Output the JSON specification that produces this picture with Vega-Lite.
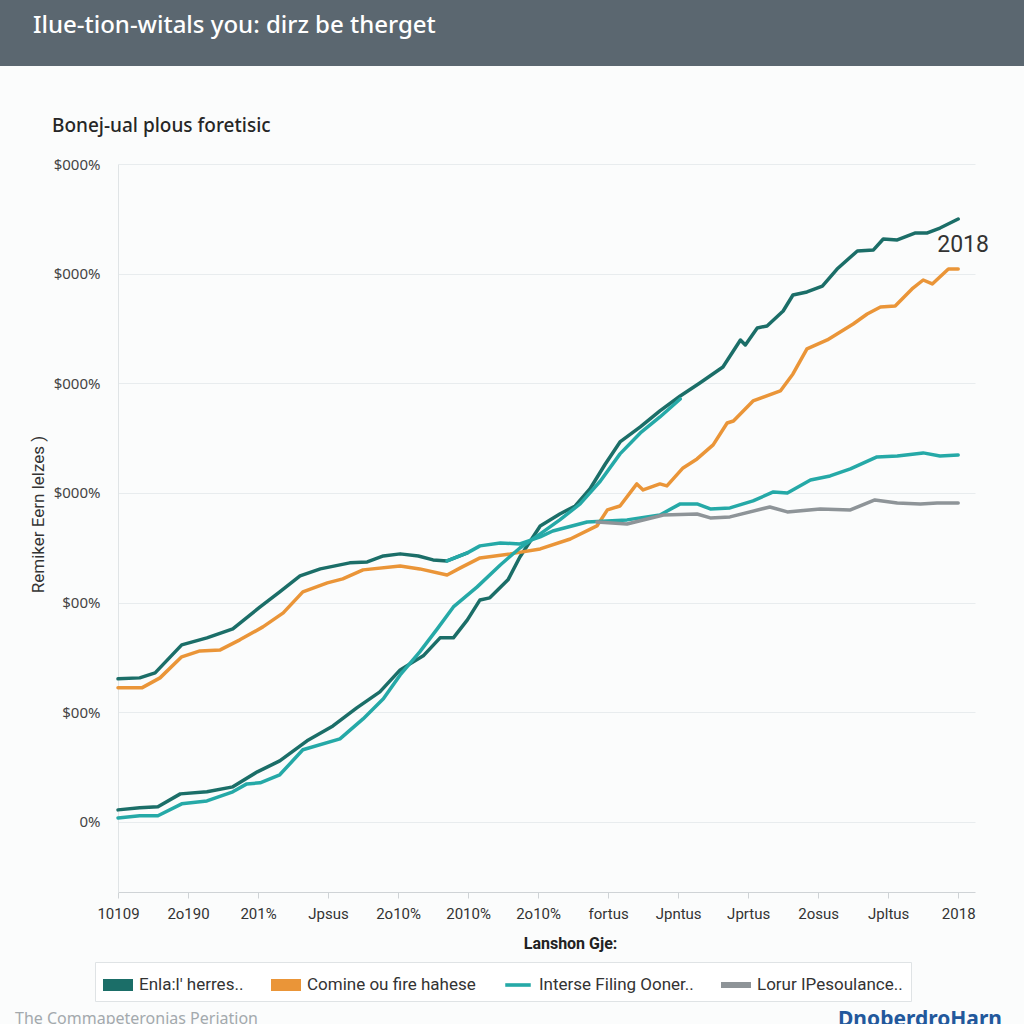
{
  "$schema": "https://vega.github.io/schema/vega-lite/v6.json",
  "background": "#fbfcfc",
  "padding": 0,
  "spacing": 51,
  "config": {
    "font": "Noto Sans",
    "view": {"stroke": null}
  },
  "datasets": {
    "lines": [
      {"series": "Enla:l' herres..", "line": "upper-dark", "t": 0, "v": 130.4},
      {"series": "Enla:l' herres..", "line": "upper-dark", "t": 0.31, "v": 131.3},
      {"series": "Enla:l' herres..", "line": "upper-dark", "t": 0.53, "v": 135.9},
      {"series": "Enla:l' herres..", "line": "upper-dark", "t": 0.91, "v": 161.4},
      {"series": "Enla:l' herres..", "line": "upper-dark", "t": 1.27, "v": 167.8},
      {"series": "Enla:l' herres..", "line": "upper-dark", "t": 1.64, "v": 176.0},
      {"series": "Enla:l' herres..", "line": "upper-dark", "t": 2.03, "v": 196.0},
      {"series": "Enla:l' herres..", "line": "upper-dark", "t": 2.31, "v": 209.7},
      {"series": "Enla:l' herres..", "line": "upper-dark", "t": 2.6, "v": 224.3},
      {"series": "Enla:l' herres..", "line": "upper-dark", "t": 2.89, "v": 230.7},
      {"series": "Enla:l' herres..", "line": "upper-dark", "t": 3.31, "v": 236.2},
      {"series": "Enla:l' herres..", "line": "upper-dark", "t": 3.56, "v": 237.1},
      {"series": "Enla:l' herres..", "line": "upper-dark", "t": 3.79, "v": 242.5},
      {"series": "Enla:l' herres..", "line": "upper-dark", "t": 4.03, "v": 244.4},
      {"series": "Enla:l' herres..", "line": "upper-dark", "t": 4.29, "v": 242.5},
      {"series": "Enla:l' herres..", "line": "upper-dark", "t": 4.5, "v": 238.9},
      {"series": "Enla:l' herres..", "line": "upper-dark", "t": 4.7, "v": 238.0},
      {"series": "Enla:l' herres..", "line": "upper-dark", "t": 4.99, "v": 245.3},

      {"series": "Enla:l' herres..", "line": "lower-dark", "t": 0, "v": 10.9},
      {"series": "Enla:l' herres..", "line": "lower-dark", "t": 0.31, "v": 12.8},
      {"series": "Enla:l' herres..", "line": "lower-dark", "t": 0.57, "v": 13.7},
      {"series": "Enla:l' herres..", "line": "lower-dark", "t": 0.89, "v": 25.5},
      {"series": "Enla:l' herres..", "line": "lower-dark", "t": 1.27, "v": 27.4},
      {"series": "Enla:l' herres..", "line": "lower-dark", "t": 1.64, "v": 31.9},
      {"series": "Enla:l' herres..", "line": "lower-dark", "t": 1.99, "v": 45.6},
      {"series": "Enla:l' herres..", "line": "lower-dark", "t": 2.31, "v": 55.6},
      {"series": "Enla:l' herres..", "line": "lower-dark", "t": 2.7, "v": 73.9},
      {"series": "Enla:l' herres..", "line": "lower-dark", "t": 3.07, "v": 87.5},
      {"series": "Enla:l' herres..", "line": "lower-dark", "t": 3.41, "v": 103.9},
      {"series": "Enla:l' herres..", "line": "lower-dark", "t": 3.74, "v": 118.5},
      {"series": "Enla:l' herres..", "line": "lower-dark", "t": 4.03, "v": 138.6},
      {"series": "Enla:l' herres..", "line": "lower-dark", "t": 4.36, "v": 151.4},
      {"series": "Enla:l' herres..", "line": "lower-dark", "t": 4.6, "v": 167.8},
      {"series": "Enla:l' herres..", "line": "lower-dark", "t": 4.79, "v": 167.8},
      {"series": "Enla:l' herres..", "line": "lower-dark", "t": 4.99, "v": 184.2},
      {"series": "Enla:l' herres..", "line": "lower-dark", "t": 5.17, "v": 202.4},
      {"series": "Enla:l' herres..", "line": "lower-dark", "t": 5.31, "v": 204.3},
      {"series": "Enla:l' herres..", "line": "lower-dark", "t": 5.57, "v": 220.7},
      {"series": "Enla:l' herres..", "line": "lower-dark", "t": 5.74, "v": 241.6},
      {"series": "Enla:l' herres..", "line": "lower-dark", "t": 6.03, "v": 269.9},
      {"series": "Enla:l' herres..", "line": "lower-dark", "t": 6.31, "v": 280.8},
      {"series": "Enla:l' herres..", "line": "lower-dark", "t": 6.53, "v": 288.1},
      {"series": "Enla:l' herres..", "line": "lower-dark", "t": 6.74, "v": 303.6},
      {"series": "Enla:l' herres..", "line": "lower-dark", "t": 6.96, "v": 326.4},
      {"series": "Enla:l' herres..", "line": "lower-dark", "t": 7.17, "v": 346.5},
      {"series": "Enla:l' herres..", "line": "lower-dark", "t": 7.46, "v": 360.2},
      {"series": "Enla:l' herres..", "line": "lower-dark", "t": 7.74, "v": 374.8},
      {"series": "Enla:l' herres..", "line": "lower-dark", "t": 8.03, "v": 388.4},
      {"series": "Enla:l' herres..", "line": "lower-dark", "t": 8.31, "v": 400.3},
      {"series": "Enla:l' herres..", "line": "lower-dark", "t": 8.64, "v": 414.9},
      {"series": "Enla:l' herres..", "line": "lower-dark", "t": 8.89, "v": 439.5},
      {"series": "Enla:l' herres..", "line": "lower-dark", "t": 8.96, "v": 434.9},
      {"series": "Enla:l' herres..", "line": "lower-dark", "t": 9.13, "v": 450.4},
      {"series": "Enla:l' herres..", "line": "lower-dark", "t": 9.27, "v": 452.3},
      {"series": "Enla:l' herres..", "line": "lower-dark", "t": 9.5, "v": 465.9},
      {"series": "Enla:l' herres..", "line": "lower-dark", "t": 9.64, "v": 480.5},
      {"series": "Enla:l' herres..", "line": "lower-dark", "t": 9.84, "v": 483.3},
      {"series": "Enla:l' herres..", "line": "lower-dark", "t": 10.06, "v": 488.7},
      {"series": "Enla:l' herres..", "line": "lower-dark", "t": 10.27, "v": 504.2},
      {"series": "Enla:l' herres..", "line": "lower-dark", "t": 10.56, "v": 520.7},
      {"series": "Enla:l' herres..", "line": "lower-dark", "t": 10.79, "v": 521.6},
      {"series": "Enla:l' herres..", "line": "lower-dark", "t": 10.93, "v": 531.6},
      {"series": "Enla:l' herres..", "line": "lower-dark", "t": 11.13, "v": 530.7},
      {"series": "Enla:l' herres..", "line": "lower-dark", "t": 11.39, "v": 537.1},
      {"series": "Enla:l' herres..", "line": "lower-dark", "t": 11.56, "v": 537.1},
      {"series": "Enla:l' herres..", "line": "lower-dark", "t": 11.74, "v": 541.6},
      {"series": "Enla:l' herres..", "line": "lower-dark", "t": 12.0, "v": 549.8},

      {"series": "Comine ou fire hahese", "line": "orange", "t": 0, "v": 122.2},
      {"series": "Comine ou fire hahese", "line": "orange", "t": 0.34, "v": 122.2},
      {"series": "Comine ou fire hahese", "line": "orange", "t": 0.6, "v": 131.3},
      {"series": "Comine ou fire hahese", "line": "orange", "t": 0.91, "v": 150.5},
      {"series": "Comine ou fire hahese", "line": "orange", "t": 1.17, "v": 155.9},
      {"series": "Comine ou fire hahese", "line": "orange", "t": 1.46, "v": 156.8},
      {"series": "Comine ou fire hahese", "line": "orange", "t": 1.74, "v": 166.0},
      {"series": "Comine ou fire hahese", "line": "orange", "t": 2.07, "v": 177.8},
      {"series": "Comine ou fire hahese", "line": "orange", "t": 2.36, "v": 190.6},
      {"series": "Comine ou fire hahese", "line": "orange", "t": 2.64, "v": 209.7},
      {"series": "Comine ou fire hahese", "line": "orange", "t": 2.99, "v": 217.9},
      {"series": "Comine ou fire hahese", "line": "orange", "t": 3.21, "v": 221.6},
      {"series": "Comine ou fire hahese", "line": "orange", "t": 3.5, "v": 229.8},
      {"series": "Comine ou fire hahese", "line": "orange", "t": 4.03, "v": 233.4},
      {"series": "Comine ou fire hahese", "line": "orange", "t": 4.31, "v": 230.7},
      {"series": "Comine ou fire hahese", "line": "orange", "t": 4.7, "v": 225.2},
      {"series": "Comine ou fire hahese", "line": "orange", "t": 4.89, "v": 231.6},
      {"series": "Comine ou fire hahese", "line": "orange", "t": 5.17, "v": 240.7},
      {"series": "Comine ou fire hahese", "line": "orange", "t": 5.6, "v": 244.4},
      {"series": "Comine ou fire hahese", "line": "orange", "t": 6.03, "v": 248.9},
      {"series": "Comine ou fire hahese", "line": "orange", "t": 6.46, "v": 258.0},
      {"series": "Comine ou fire hahese", "line": "orange", "t": 6.84, "v": 269.9},
      {"series": "Comine ou fire hahese", "line": "orange", "t": 6.99, "v": 284.5},
      {"series": "Comine ou fire hahese", "line": "orange", "t": 7.17, "v": 288.1},
      {"series": "Comine ou fire hahese", "line": "orange", "t": 7.41, "v": 308.2},
      {"series": "Comine ou fire hahese", "line": "orange", "t": 7.5, "v": 302.7},
      {"series": "Comine ou fire hahese", "line": "orange", "t": 7.74, "v": 308.2},
      {"series": "Comine ou fire hahese", "line": "orange", "t": 7.84, "v": 306.4},
      {"series": "Comine ou fire hahese", "line": "orange", "t": 8.07, "v": 322.8},
      {"series": "Comine ou fire hahese", "line": "orange", "t": 8.27, "v": 331.0},
      {"series": "Comine ou fire hahese", "line": "orange", "t": 8.5, "v": 343.8},
      {"series": "Comine ou fire hahese", "line": "orange", "t": 8.7, "v": 363.8},
      {"series": "Comine ou fire hahese", "line": "orange", "t": 8.79, "v": 365.6},
      {"series": "Comine ou fire hahese", "line": "orange", "t": 9.07, "v": 383.9},
      {"series": "Comine ou fire hahese", "line": "orange", "t": 9.46, "v": 393.0},
      {"series": "Comine ou fire hahese", "line": "orange", "t": 9.64, "v": 408.5},
      {"series": "Comine ou fire hahese", "line": "orange", "t": 9.84, "v": 431.3},
      {"series": "Comine ou fire hahese", "line": "orange", "t": 10.13, "v": 439.5},
      {"series": "Comine ou fire hahese", "line": "orange", "t": 10.5, "v": 454.1},
      {"series": "Comine ou fire hahese", "line": "orange", "t": 10.7, "v": 463.2},
      {"series": "Comine ou fire hahese", "line": "orange", "t": 10.89, "v": 469.6},
      {"series": "Comine ou fire hahese", "line": "orange", "t": 11.1, "v": 470.5},
      {"series": "Comine ou fire hahese", "line": "orange", "t": 11.34, "v": 486.0},
      {"series": "Comine ou fire hahese", "line": "orange", "t": 11.5, "v": 494.2},
      {"series": "Comine ou fire hahese", "line": "orange", "t": 11.63, "v": 490.6},
      {"series": "Comine ou fire hahese", "line": "orange", "t": 11.86, "v": 504.2},
      {"series": "Comine ou fire hahese", "line": "orange", "t": 12.0, "v": 504.2},

      {"series": "Interse Filing Ooner..", "line": "lower-cyan", "t": 0, "v": 3.6},
      {"series": "Interse Filing Ooner..", "line": "lower-cyan", "t": 0.31, "v": 5.5},
      {"series": "Interse Filing Ooner..", "line": "lower-cyan", "t": 0.57, "v": 5.5},
      {"series": "Interse Filing Ooner..", "line": "lower-cyan", "t": 0.91, "v": 16.4},
      {"series": "Interse Filing Ooner..", "line": "lower-cyan", "t": 1.27, "v": 19.1},
      {"series": "Interse Filing Ooner..", "line": "lower-cyan", "t": 1.64, "v": 27.4},
      {"series": "Interse Filing Ooner..", "line": "lower-cyan", "t": 1.84, "v": 34.6},
      {"series": "Interse Filing Ooner..", "line": "lower-cyan", "t": 2.03, "v": 35.6},
      {"series": "Interse Filing Ooner..", "line": "lower-cyan", "t": 2.31, "v": 42.9},
      {"series": "Interse Filing Ooner..", "line": "lower-cyan", "t": 2.64, "v": 65.7},
      {"series": "Interse Filing Ooner..", "line": "lower-cyan", "t": 3.17, "v": 75.7},
      {"series": "Interse Filing Ooner..", "line": "lower-cyan", "t": 3.5, "v": 93.9},
      {"series": "Interse Filing Ooner..", "line": "lower-cyan", "t": 3.79, "v": 112.2},
      {"series": "Interse Filing Ooner..", "line": "lower-cyan", "t": 4.03, "v": 134.0},
      {"series": "Interse Filing Ooner..", "line": "lower-cyan", "t": 4.31, "v": 155.0},
      {"series": "Interse Filing Ooner..", "line": "lower-cyan", "t": 4.56, "v": 176.0},
      {"series": "Interse Filing Ooner..", "line": "lower-cyan", "t": 4.79, "v": 196.0},
      {"series": "Interse Filing Ooner..", "line": "lower-cyan", "t": 5.13, "v": 214.3},
      {"series": "Interse Filing Ooner..", "line": "lower-cyan", "t": 5.46, "v": 234.3},
      {"series": "Interse Filing Ooner..", "line": "lower-cyan", "t": 5.74, "v": 249.8},
      {"series": "Interse Filing Ooner..", "line": "lower-cyan", "t": 6.03, "v": 262.6},
      {"series": "Interse Filing Ooner..", "line": "lower-cyan", "t": 6.31, "v": 275.4},
      {"series": "Interse Filing Ooner..", "line": "lower-cyan", "t": 6.6, "v": 290.0},
      {"series": "Interse Filing Ooner..", "line": "lower-cyan", "t": 6.89, "v": 310.9},
      {"series": "Interse Filing Ooner..", "line": "lower-cyan", "t": 7.17, "v": 335.6},
      {"series": "Interse Filing Ooner..", "line": "lower-cyan", "t": 7.46, "v": 354.7},
      {"series": "Interse Filing Ooner..", "line": "lower-cyan", "t": 7.74, "v": 369.3},
      {"series": "Interse Filing Ooner..", "line": "lower-cyan", "t": 8.03, "v": 385.7},

      {"series": "Interse Filing Ooner..", "line": "upper-cyan", "t": 4.7, "v": 238.0},
      {"series": "Interse Filing Ooner..", "line": "upper-cyan", "t": 4.99, "v": 245.3},
      {"series": "Interse Filing Ooner..", "line": "upper-cyan", "t": 5.17, "v": 251.7},
      {"series": "Interse Filing Ooner..", "line": "upper-cyan", "t": 5.46, "v": 254.4},
      {"series": "Interse Filing Ooner..", "line": "upper-cyan", "t": 5.74, "v": 253.5},
      {"series": "Interse Filing Ooner..", "line": "upper-cyan", "t": 6.03, "v": 259.9},
      {"series": "Interse Filing Ooner..", "line": "upper-cyan", "t": 6.21, "v": 265.3},
      {"series": "Interse Filing Ooner..", "line": "upper-cyan", "t": 6.7, "v": 273.5},
      {"series": "Interse Filing Ooner..", "line": "upper-cyan", "t": 7.27, "v": 275.4},
      {"series": "Interse Filing Ooner..", "line": "upper-cyan", "t": 7.74, "v": 279.9},
      {"series": "Interse Filing Ooner..", "line": "upper-cyan", "t": 8.03, "v": 290.0},
      {"series": "Interse Filing Ooner..", "line": "upper-cyan", "t": 8.27, "v": 290.0},
      {"series": "Interse Filing Ooner..", "line": "upper-cyan", "t": 8.46, "v": 285.4},
      {"series": "Interse Filing Ooner..", "line": "upper-cyan", "t": 8.74, "v": 286.3},
      {"series": "Interse Filing Ooner..", "line": "upper-cyan", "t": 9.07, "v": 292.7},
      {"series": "Interse Filing Ooner..", "line": "upper-cyan", "t": 9.36, "v": 300.9},
      {"series": "Interse Filing Ooner..", "line": "upper-cyan", "t": 9.56, "v": 300.0},
      {"series": "Interse Filing Ooner..", "line": "upper-cyan", "t": 9.89, "v": 311.8},
      {"series": "Interse Filing Ooner..", "line": "upper-cyan", "t": 10.17, "v": 315.5},
      {"series": "Interse Filing Ooner..", "line": "upper-cyan", "t": 10.46, "v": 321.9},
      {"series": "Interse Filing Ooner..", "line": "upper-cyan", "t": 10.84, "v": 332.8},
      {"series": "Interse Filing Ooner..", "line": "upper-cyan", "t": 11.13, "v": 333.7},
      {"series": "Interse Filing Ooner..", "line": "upper-cyan", "t": 11.5, "v": 336.5},
      {"series": "Interse Filing Ooner..", "line": "upper-cyan", "t": 11.74, "v": 333.7},
      {"series": "Interse Filing Ooner..", "line": "upper-cyan", "t": 12.0, "v": 334.6},

      {"series": "Lorur IPesoulance..", "line": "gray", "t": 6.84, "v": 273.5},
      {"series": "Lorur IPesoulance..", "line": "gray", "t": 7.27, "v": 271.7},
      {"series": "Lorur IPesoulance..", "line": "gray", "t": 7.79, "v": 279.9},
      {"series": "Lorur IPesoulance..", "line": "gray", "t": 8.27, "v": 280.8},
      {"series": "Lorur IPesoulance..", "line": "gray", "t": 8.46, "v": 277.2},
      {"series": "Lorur IPesoulance..", "line": "gray", "t": 8.74, "v": 278.1},
      {"series": "Lorur IPesoulance..", "line": "gray", "t": 9.31, "v": 287.2},
      {"series": "Lorur IPesoulance..", "line": "gray", "t": 9.56, "v": 282.7},
      {"series": "Lorur IPesoulance..", "line": "gray", "t": 10.03, "v": 285.4},
      {"series": "Lorur IPesoulance..", "line": "gray", "t": 10.46, "v": 284.5},
      {"series": "Lorur IPesoulance..", "line": "gray", "t": 10.81, "v": 293.6},
      {"series": "Lorur IPesoulance..", "line": "gray", "t": 11.13, "v": 290.9},
      {"series": "Lorur IPesoulance..", "line": "gray", "t": 11.46, "v": 290.0},
      {"series": "Lorur IPesoulance..", "line": "gray", "t": 11.7, "v": 290.9},
      {"series": "Lorur IPesoulance..", "line": "gray", "t": 12.0, "v": 290.9}
    ],
    "notes": [
      {"t": 12.07, "v": 526, "note": "2018"}
    ],
    "heading": [
      {"heading": "Ilue-tion-witals you: dirz be therget"}
    ],
    "footer": [
      {"side": "left", "caption": "The Commapeteronias Periation"},
      {"side": "right", "caption": "DnoberdroHarn"}
    ]
  },
  "vconcat": [
    {
      "width": 1024,
      "height": 66,
      "view": {"fill": "#5b6770", "stroke": null},
      "data": {"name": "heading"},
      "mark": {"type": "text", "align": "left", "baseline": "alphabetic", "font": "Noto Sans", "fontSize": 24, "fontWeight": 500, "color": "#ffffff"},
      "encoding": {
        "x": {"field": "heading", "type": "nominal", "scale": {"type": "point", "range": [33, 1024], "padding": 0, "align": 0}, "axis": null},
        "text": {"field": "heading"}
      }
    },
    {
      "spacing": 56,
      "vconcat": [
        {
          "spacing": 0,
          "hconcat": [
            {
              "width": 29,
              "height": 728,
              "view": {"fill": "#fbfcfc", "stroke": null},
              "data": {"values": []},
              "mark": {"type": "point"},
              "encoding": {}
            },
            {
              "width": 857,
              "height": 728,
              "title": {
                "text": "Bonej-ual plous foretisic",
                "anchor": "start",
                "frame": "group",
                "dx": -66,
                "offset": 21,
                "color": "#262626",
                "fontSize": 19,
                "fontWeight": 500,
                "font": "Noto Sans"
              },
              "layer": [
                {
                  "data": {"name": "lines"},
                  "mark": {"type": "line", "strokeWidth": 3.5, "strokeJoin": "round", "strokeCap": "round"},
                  "encoding": {
                    "x": {
                      "field": "t", "type": "quantitative",
                      "scale": {"domain": [0, 12.24], "nice": false, "zero": false},
                      "axis": {
                        "values": [0,1,2,3,4,5,6,7,8,9,10,11,12],
                        "labelExpr": "['10109','2o190','201%','Jpsus','2o10%','2010%','2o10%','fortus','Jpntus','Jprtus','2osus','Jpltus','2018'][datum.value]",
                        "title": "Lanshon Gje:",
                        "titleFont": "Roboto",
                        "titleFontSize": 16,
                        "titleFontWeight": "bold",
                        "titleColor": "#222222",
                        "titlePadding": 14,
                        "titleX": 452,
                        "labelFont": "Roboto",
                        "labelFontSize": 15,
                        "labelColor": "#333333",
                        "labelPadding": 8,
                        "labelFlush": false,
                        "labelOverlap": false,
                        "tickSize": 6,
                        "tickColor": "#cfd3d6",
                        "domainColor": "#cfd3d6",
                        "grid": false
                      }
                    },
                    "y": {
                      "field": "v", "type": "quantitative",
                      "scale": {"domain": [-64, 600], "nice": false, "zero": false},
                      "axis": {
                        "values": [0,100,200,300,400,500,600],
                        "labelExpr": "datum.value == 0 ? '0%' : (datum.value <= 200 ? '$00%' : '$000%')",
                        "title": "Remiker Eern lelzes )",
                        "titleFont": "Roboto",
                        "titleFontSize": 17,
                        "titleFontWeight": "normal",
                        "titleColor": "#333333",
                        "titlePadding": 6,
                        "titleY": 350,
                        "labelFont": "Noto Sans",
                        "labelFontSize": 15,
                        "labelColor": "#444444",
                        "labelPadding": 18,
                        "ticks": false,
                        "domainColor": "#e0e4e6",
                        "grid": true,
                        "gridColor": "#e8ecee"
                      }
                    },
                    "color": {
                      "field": "series", "type": "nominal",
                      "scale": {
                        "domain": ["Enla:l' herres..", "Comine ou fire hahese", "Interse Filing Ooner..", "Lorur IPesoulance.."],
                        "range": ["#1b6e68", "#ea9538", "#25a9a7", "#8e9498"]
                      },
                      "legend": {
                        "orient": "none",
                        "legendX": 95,
                        "legendY": 962,
                        "direction": "horizontal",
                        "title": null,
                        "strokeColor": "#dfe3e5",
                        "fillColor": "#ffffff",
                        "padding": 8,
                        "columnPadding": 27,
                        "symbolType": "M-1,-0.4H1V0.4H-1Z",
                        "symbolSize": 900,
                        "symbolStrokeWidth": 0,
                        "symbolOffset": 0,
                        "labelOffset": 6,
                        "labelFont": "Roboto",
                        "labelFontSize": 17,
                        "labelColor": "#333333",
                        "labelLimit": 300,
                        "encode": {
                          "symbols": {
                            "update": {
                              "fill": {"scale": "color", "field": "value"},
                              "shape": {"signal": "datum.value == 'Interse Filing Ooner..' ? 'M-0.85,-0.12H0.85V0.12H-0.85Z' : (datum.value == 'Lorur IPesoulance..' ? 'M-1,-0.2H1V0.2H-1Z' : 'M-1,-0.4H1V0.4H-1Z')"}
                            }
                          }
                        }
                      }
                    },
                    "detail": {"field": "line"}
                  }
                },
                {
                  "data": {"name": "notes"},
                  "mark": {"type": "text", "font": "Roboto", "fontSize": 23, "color": "#333333", "align": "center", "baseline": "middle"},
                  "encoding": {
                    "x": {"field": "t", "type": "quantitative"},
                    "y": {"field": "v", "type": "quantitative"},
                    "text": {"field": "note"}
                  }
                }
              ]
            }
          ]
        },
        {
          "width": 1024,
          "height": 20,
          "data": {"name": "footer"},
          "layer": [
            {
              "transform": [{"filter": "datum.side == 'left'"}],
              "mark": {"type": "text", "align": "left", "baseline": "middle", "font": "Noto Sans", "fontSize": 16, "color": "#a3a9ad", "dy": 2},
              "encoding": {
                "x": {"field": "side", "type": "nominal", "scale": {"type": "point", "domain": ["left", "right"], "range": [15, 838], "padding": 0}, "axis": null},
                "text": {"field": "caption"}
              }
            },
            {
              "transform": [{"filter": "datum.side == 'right'"}],
              "mark": {"type": "text", "align": "left", "baseline": "middle", "font": "Noto Sans", "fontSize": 21, "fontWeight": "bold", "color": "#22589c", "dy": 3},
              "encoding": {
                "x": {"field": "side", "type": "nominal", "scale": {"type": "point", "domain": ["left", "right"], "range": [15, 838], "padding": 0}, "axis": null},
                "text": {"field": "caption"}
              }
            }
          ]
        }
      ]
    }
  ]
}
